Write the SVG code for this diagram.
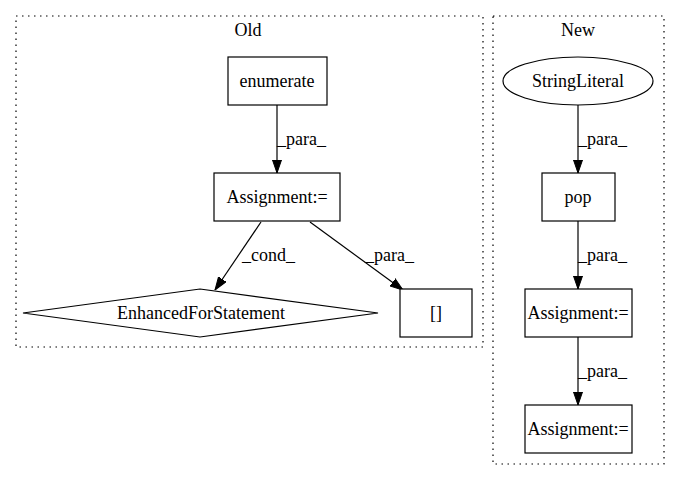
<svg xmlns="http://www.w3.org/2000/svg" width="680" height="480" viewBox="0 0 680 480">
<style>
text{font-family:"Liberation Serif","Times New Roman",serif;font-size:18px;fill:#000}
.n{fill:#fff;stroke:#000;stroke-width:1.2}
.c{fill:none;stroke:#000;stroke-width:1.2;stroke-dasharray:1.5,4.5}
.e{fill:none;stroke:#000;stroke-width:1.2}
.m{text-anchor:middle}
</style>
<defs>
<marker id="ah" viewBox="0 0 13 10" refX="13" refY="5" markerWidth="13" markerHeight="10" markerUnits="userSpaceOnUse" orient="auto">
<path d="M0,0.5 L13,5 L0,9.5 Z" fill="#000" stroke="#000" stroke-width="1"/>
</marker>
</defs>
<rect width="680" height="480" fill="#fff"/>
<g id="cluster_old">
<rect class="c" x="16" y="16" width="467" height="331"/>
<text class="m" x="248" y="36">Old</text>
</g>
<g id="cluster_new">
<rect class="c" x="493" y="16" width="171" height="448"/>
<text class="m" x="578" y="36">New</text>
</g>
<g id="connectors">
<path class="e" d="M277,105 L277,173" marker-end="url(#ah)"/>
<text x="277" y="145">_para_</text>
<path class="e" d="M261,222 L215,290" marker-end="url(#ah)"/>
<text x="242" y="261">_cond_</text>
<path class="e" d="M310,222 L403,290" marker-end="url(#ah)"/>
<text x="365" y="261">_para_</text>
<path class="e" d="M578,105 L578,173" marker-end="url(#ah)"/>
<text x="578" y="145">_para_</text>
<path class="e" d="M578,221 L578,289" marker-end="url(#ah)"/>
<text x="578" y="261">_para_</text>
<path class="e" d="M578,337 L578,405" marker-end="url(#ah)"/>
<text x="578" y="377">_para_</text>
</g>
<g id="enumerate">
<rect class="n" x="228" y="57" width="99" height="48"/>
<text class="m" x="277" y="87">enumerate</text>
</g>
<g id="assign_old">
<rect class="n" x="214" y="173" width="126" height="48"/>
<text class="m" x="277" y="203">Assignment:=</text>
</g>
<g id="enhanced_for">
<polygon class="n" points="200,289 378,313 200,337 23,313"/>
<text class="m" x="201" y="319">EnhancedForStatement</text>
</g>
<g id="brackets">
<rect class="n" x="400" y="289" width="72" height="48"/>
<text class="m" x="436" y="319">[]</text>
</g>
<g id="string_literal">
<ellipse class="n" cx="578" cy="81" rx="75" ry="24"/>
<text class="m" x="578" y="87">StringLiteral</text>
</g>
<g id="pop">
<rect class="n" x="542" y="173" width="73" height="48"/>
<text class="m" x="578" y="203">pop</text>
</g>
<g id="assign_new1">
<rect class="n" x="525" y="289" width="107" height="48"/>
<text class="m" x="578" y="319">Assignment:=</text>
</g>
<g id="assign_new2">
<rect class="n" x="525" y="405" width="107" height="48"/>
<text class="m" x="578" y="435">Assignment:=</text>
</g>
</svg>
